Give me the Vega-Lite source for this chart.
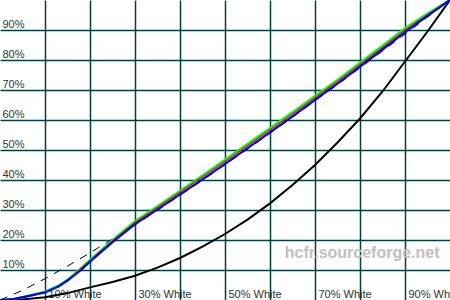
{
  "$schema": "https://vega.github.io/schema/vega-lite/v6.json",
  "width": 450,
  "height": 300,
  "padding": 0,
  "autosize": {"type": "none"},
  "background": "white",
  "config": {"view": {"stroke": null}},
  "datasets": {
    "ref": [
      {"x": 0, "y": 0}, {"x": 5, "y": 3.2}, {"x": 10, "y": 7.1}, {"x": 15, "y": 11.3}, {"x": 20, "y": 15.7},
      {"x": 25, "y": 20.3}, {"x": 30, "y": 25}, {"x": 35, "y": 29.9}, {"x": 40, "y": 34.9}, {"x": 45, "y": 39.9},
      {"x": 50, "y": 45.1}, {"x": 55, "y": 50.3}, {"x": 60, "y": 55.6}, {"x": 65, "y": 60.9}, {"x": 70, "y": 66.4},
      {"x": 75, "y": 71.8}, {"x": 80, "y": 77.4}, {"x": 85, "y": 83}, {"x": 90, "y": 88.6}, {"x": 95, "y": 94.3},
      {"x": 100, "y": 100}
    ],
    "gamma": [
      {"x": 0, "y": 0}, {"x": 5, "y": 0.2}, {"x": 10, "y": 0.9}, {"x": 15, "y": 2.3}, {"x": 20, "y": 4.2},
      {"x": 25, "y": 6}, {"x": 30, "y": 8.1}, {"x": 35, "y": 10.8}, {"x": 40, "y": 14}, {"x": 45, "y": 17.8},
      {"x": 50, "y": 22}, {"x": 55, "y": 26.8}, {"x": 60, "y": 32.2}, {"x": 65, "y": 38.3}, {"x": 70, "y": 45},
      {"x": 75, "y": 52.5}, {"x": 80, "y": 60.5}, {"x": 85, "y": 69.5}, {"x": 90, "y": 79.5}, {"x": 95, "y": 89.5},
      {"x": 100, "y": 100}
    ],
    "green": [
      {"x": 0, "y": 0}, {"x": 3, "y": 0.3}, {"x": 6, "y": 1.3}, {"x": 10, "y": 2.8}, {"x": 13, "y": 4.8},
      {"x": 15, "y": 6.8}, {"x": 17.5, "y": 10}, {"x": 20, "y": 13.4}, {"x": 25, "y": 20}, {"x": 30, "y": 26.3},
      {"x": 35, "y": 31.3}, {"x": 40, "y": 36.4}, {"x": 45, "y": 41.5}, {"x": 50, "y": 46.8}, {"x": 55, "y": 52},
      {"x": 60, "y": 57.3}, {"x": 65, "y": 62.6}, {"x": 70, "y": 68}, {"x": 75, "y": 73.4}, {"x": 80, "y": 79.1},
      {"x": 85, "y": 84.8}, {"x": 90, "y": 90.6}, {"x": 95, "y": 95.5}, {"x": 100, "y": 100}
    ],
    "red": [
      {"x": 0, "y": 0}, {"x": 3, "y": 0.3}, {"x": 6, "y": 1.3}, {"x": 10, "y": 2.6}, {"x": 13, "y": 4.6},
      {"x": 15, "y": 6.6}, {"x": 17.5, "y": 9.8}, {"x": 20, "y": 13.1}, {"x": 25, "y": 19.7}, {"x": 30, "y": 25.8},
      {"x": 35, "y": 30.8}, {"x": 40, "y": 35.9}, {"x": 45, "y": 41}, {"x": 50, "y": 46.2}, {"x": 55, "y": 51.4},
      {"x": 60, "y": 56.7}, {"x": 65, "y": 62}, {"x": 70, "y": 67.4}, {"x": 75, "y": 72.8}, {"x": 80, "y": 78.5},
      {"x": 85, "y": 84.2}, {"x": 90, "y": 90}, {"x": 95, "y": 95.1}, {"x": 100, "y": 100}
    ],
    "blue": [
      {"x": 0, "y": 0}, {"x": 3, "y": 0.3}, {"x": 6, "y": 1.2}, {"x": 10, "y": 2.5}, {"x": 13, "y": 4.5},
      {"x": 15, "y": 6.5}, {"x": 18, "y": 10}, {"x": 20, "y": 12.8}, {"x": 25, "y": 19.3}, {"x": 30, "y": 25.3},
      {"x": 35, "y": 30.2}, {"x": 40, "y": 35.2}, {"x": 45, "y": 40.2}, {"x": 50, "y": 45.4}, {"x": 55, "y": 50.6},
      {"x": 60, "y": 55.9}, {"x": 65, "y": 61.2}, {"x": 70, "y": 66.7}, {"x": 75, "y": 72.1}, {"x": 80, "y": 77.8},
      {"x": 85, "y": 83.5}, {"x": 90, "y": 89.3}, {"x": 95, "y": 94.7}, {"x": 100, "y": 100}
    ],
    "watermark": [{"x": 63.3, "y": 14, "label": "hcfr.sourceforge.net"}]
  },
  "encoding": {
    "x": {
      "field": "x", "type": "quantitative",
      "scale": {"domain": [0, 100], "nice": false, "zero": false},
      "axis": {
        "orient": "bottom", "title": null, "domain": false, "ticks": false, "tickSize": 0,
        "grid": true, "gridColor": "#004040", "gridWidth": 1.5, "gridOpacity": 1,
        "values": [10, 20, 30, 40, 50, 60, 70, 80, 90],
        "labelExpr": "datum.value % 20 == 10 ? datum.value + '% White' : ''",
        "labelAlign": "left", "labelBaseline": "alphabetic", "labelPadding": -3, "labelOffset": 3,
        "labelFlush": false, "labelOverlap": false,
        "labelFont": "Liberation Sans", "labelFontSize": 11, "labelColor": "#333333"
      }
    },
    "y": {
      "field": "y", "type": "quantitative",
      "scale": {"domain": [0, 100], "nice": false, "zero": false},
      "axis": {
        "orient": "left", "title": null, "domain": false, "ticks": false, "tickSize": 0,
        "grid": true, "gridColor": "#004040", "gridWidth": 1.5, "gridOpacity": 1,
        "values": [10, 20, 30, 40, 50, 60, 70, 80, 90],
        "labelExpr": "datum.value + '%'",
        "labelAlign": "left", "labelBaseline": "alphabetic", "labelPadding": -2, "labelOffset": -3,
        "labelFlush": false, "labelOverlap": false,
        "labelFont": "Liberation Sans", "labelFontSize": 11, "labelColor": "#333333"
      }
    }
  },
  "layer": [
    {
      "data": {"name": "watermark"},
      "mark": {"type": "text", "align": "left", "baseline": "alphabetic", "font": "Liberation Sans", "fontSize": 16, "fontWeight": "bold", "color": "#c0c0c0"},
      "encoding": {"text": {"field": "label"}}
    },
    {
      "data": {"name": "ref"},
      "mark": {"type": "line", "color": "black", "strokeWidth": 1, "strokeDash": [8, 7], "clip": true}
    },
    {
      "data": {"name": "gamma"},
      "mark": {"type": "line", "color": "black", "strokeWidth": 2, "clip": true}
    },
    {
      "data": {"name": "green"},
      "mark": {"type": "line", "color": "#00ff00", "strokeWidth": 2.2, "clip": true}
    },
    {
      "data": {"name": "red"},
      "mark": {"type": "line", "color": "#ff0000", "strokeWidth": 1.2, "clip": true}
    },
    {
      "data": {"name": "blue"},
      "mark": {"type": "line", "color": "#0000ff", "strokeWidth": 2.2, "clip": true}
    }
  ]
}
